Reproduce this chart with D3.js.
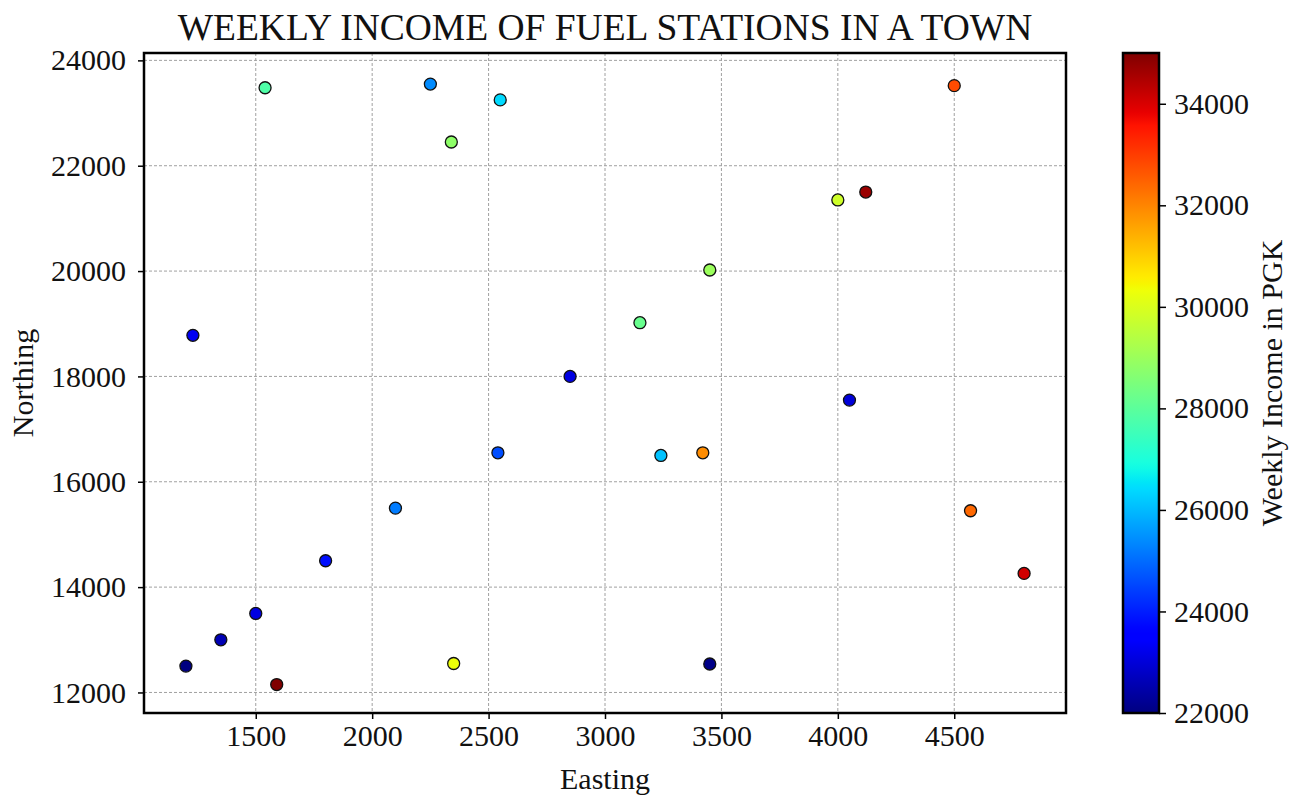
<!DOCTYPE html>
<html>
<head>
<meta charset="utf-8">
<script src="https://cdn.jsdelivr.net/npm/d3@7"></script>
<style>
  html, body { margin: 0; padding: 0; background: #fff; }
  svg { display: block; font-family: "Liberation Serif", "Times New Roman", serif; }
</style>
</head>
<body>
<svg id="chart" width="1296" height="797"></svg>
<script>
// ---- data ----
const easting  = [1200, 1350, 1500, 1590, 1800, 2100, 2350, 2540, 1540, 2250, 2550, 2340, 1230, 2850, 4500, 4120, 4000, 3450, 3150, 4050, 3240, 3420, 4570, 4800, 3450];
const northing = [12500, 13000, 13500, 12150, 14500, 15500, 12550, 16550, 23480, 23550, 23250, 22450, 18780, 18000, 23520, 21500, 21350, 20020, 19020, 17550, 16500, 16550, 15450, 14260, 12540];
const income   = [22000, 22600, 23100, 35000, 23800, 25200, 30300, 24600, 27800, 25400, 26400, 28800, 23300, 23100, 32800, 34700, 29800, 29000, 28200, 23000, 26100, 31900, 32400, 34100, 22100];
const xTicks = [1500, 2000, 2500, 3000, 3500, 4000, 4500];
const yTicks = [12000, 14000, 16000, 18000, 20000, 22000, 24000];
const cTicks = [22000, 24000, 26000, 28000, 30000, 32000, 34000];
const titleText = "WEEKLY INCOME OF FUEL STATIONS IN A TOWN";
const xLabel = "Easting";
const yLabel = "Northing";
const cLabel = "Weekly Income in PGK";

// ---- matplotlib jet ----
const jetR = d3.scaleLinear().domain([0, 0.35, 0.66, 0.89, 1]).range([0, 0, 1, 1, 0.5]).clamp(true);
const jetG = d3.scaleLinear().domain([0, 0.125, 0.375, 0.64, 0.91, 1]).range([0, 0, 1, 1, 0, 0]).clamp(true);
const jetB = d3.scaleLinear().domain([0, 0.11, 0.34, 0.65, 1]).range([0.5, 1, 1, 0, 0]).clamp(true);
const jet = t => d3.rgb(jetR(t) * 255, jetG(t) * 255, jetB(t) * 255).formatHex();

const svg = d3.select("#chart");
const L = 144, R = 1066, T = 53, B = 713;
const x = d3.scaleLinear().domain([1020, 4980]).range([L, R]);
const y = d3.scaleLinear().domain([11610, 24140]).range([B, T]);
const color = d3.scaleSequential(jet).domain([d3.min(income), d3.max(income)]);

// grid
const g = svg.append("g");
g.selectAll(".gx").data(xTicks).join("line")
  .attr("x1", d => x(d)).attr("x2", d => x(d)).attr("y1", T).attr("y2", B)
  .attr("stroke", "#a0a0a0").attr("stroke-width", 1).attr("stroke-dasharray", "3,2");
g.selectAll(".gy").data(yTicks).join("line")
  .attr("y1", d => y(d)).attr("y2", d => y(d)).attr("x1", L).attr("x2", R)
  .attr("stroke", "#a0a0a0").attr("stroke-width", 1).attr("stroke-dasharray", "3,2");

// points
const pts = easting.map((e, i) => ({ e, n: northing[i], v: income[i] }));
svg.append("g").selectAll("circle").data(pts).join("circle")
  .attr("cx", d => x(d.e)).attr("cy", d => y(d.n)).attr("r", 6)
  .attr("fill", d => color(d.v)).attr("stroke", "#111").attr("stroke-width", 1.3);

// axes
const fs = 30;
const xAxis = svg.append("g").attr("transform", `translate(0,${B})`)
  .call(d3.axisBottom(x).tickValues(xTicks).tickSize(6).tickPadding(6).tickFormat(d3.format("d")));
const yAxis = svg.append("g").attr("transform", `translate(${L},0)`)
  .call(d3.axisLeft(y).tickValues(yTicks).tickSize(6).tickPadding(12).tickFormat(d3.format("d")));
[xAxis, yAxis].forEach(a => {
  a.select(".domain").remove();
  a.selectAll(".tick line").attr("stroke", "#000").attr("stroke-width", 1.5);
  a.selectAll(".tick text").attr("font-size", fs).attr("fill", "#111")
    .attr("font-family", "Liberation Serif, serif");
});

// frame
svg.append("rect").attr("x", L).attr("y", T).attr("width", R - L).attr("height", B - T)
  .attr("fill", "none").attr("stroke", "#000").attr("stroke-width", 2.5);

// labels
svg.append("text").attr("x", (L + R) / 2).attr("y", 40).attr("text-anchor", "middle")
  .attr("font-size", 37.5).attr("fill", "#111").text(titleText);
svg.append("text").attr("x", (L + R) / 2).attr("y", 789).attr("text-anchor", "middle")
  .attr("font-size", fs).attr("fill", "#111").text(xLabel);
svg.append("text").attr("transform", `translate(33,${(T + B) / 2}) rotate(-90)`).attr("text-anchor", "middle")
  .attr("font-size", fs).attr("fill", "#111").text(yLabel);

// colorbar
const cbL = 1123, cbR = 1159;
const cy = d3.scaleLinear().domain(color.domain()).range([B, T]);
const defs = svg.append("defs");
const grad = defs.append("linearGradient").attr("id", "jetgrad")
  .attr("x1", 0).attr("y1", 1).attr("x2", 0).attr("y2", 0);
grad.selectAll("stop").data(d3.range(0, 1.0001, 0.01)).join("stop")
  .attr("offset", d => d).attr("stop-color", d => jet(d));
svg.append("rect").attr("x", cbL).attr("y", T).attr("width", cbR - cbL).attr("height", B - T)
  .attr("fill", "url(#jetgrad)").attr("stroke", "#000").attr("stroke-width", 2.5);
const cAxis = svg.append("g").attr("transform", `translate(${cbR},0)`)
  .call(d3.axisRight(cy).tickValues(cTicks).tickSize(7).tickPadding(8).tickFormat(d3.format("d")));
cAxis.select(".domain").remove();
cAxis.selectAll(".tick line").attr("stroke", "#000").attr("stroke-width", 1.5);
cAxis.selectAll(".tick text").attr("font-size", fs).attr("fill", "#111")
  .attr("font-family", "Liberation Serif, serif");
svg.append("text").attr("transform", `translate(1282,${(T + B) / 2}) rotate(-90)`).attr("text-anchor", "middle")
  .attr("font-size", fs).attr("fill", "#111").text(cLabel);
</script>
</body>
</html>
